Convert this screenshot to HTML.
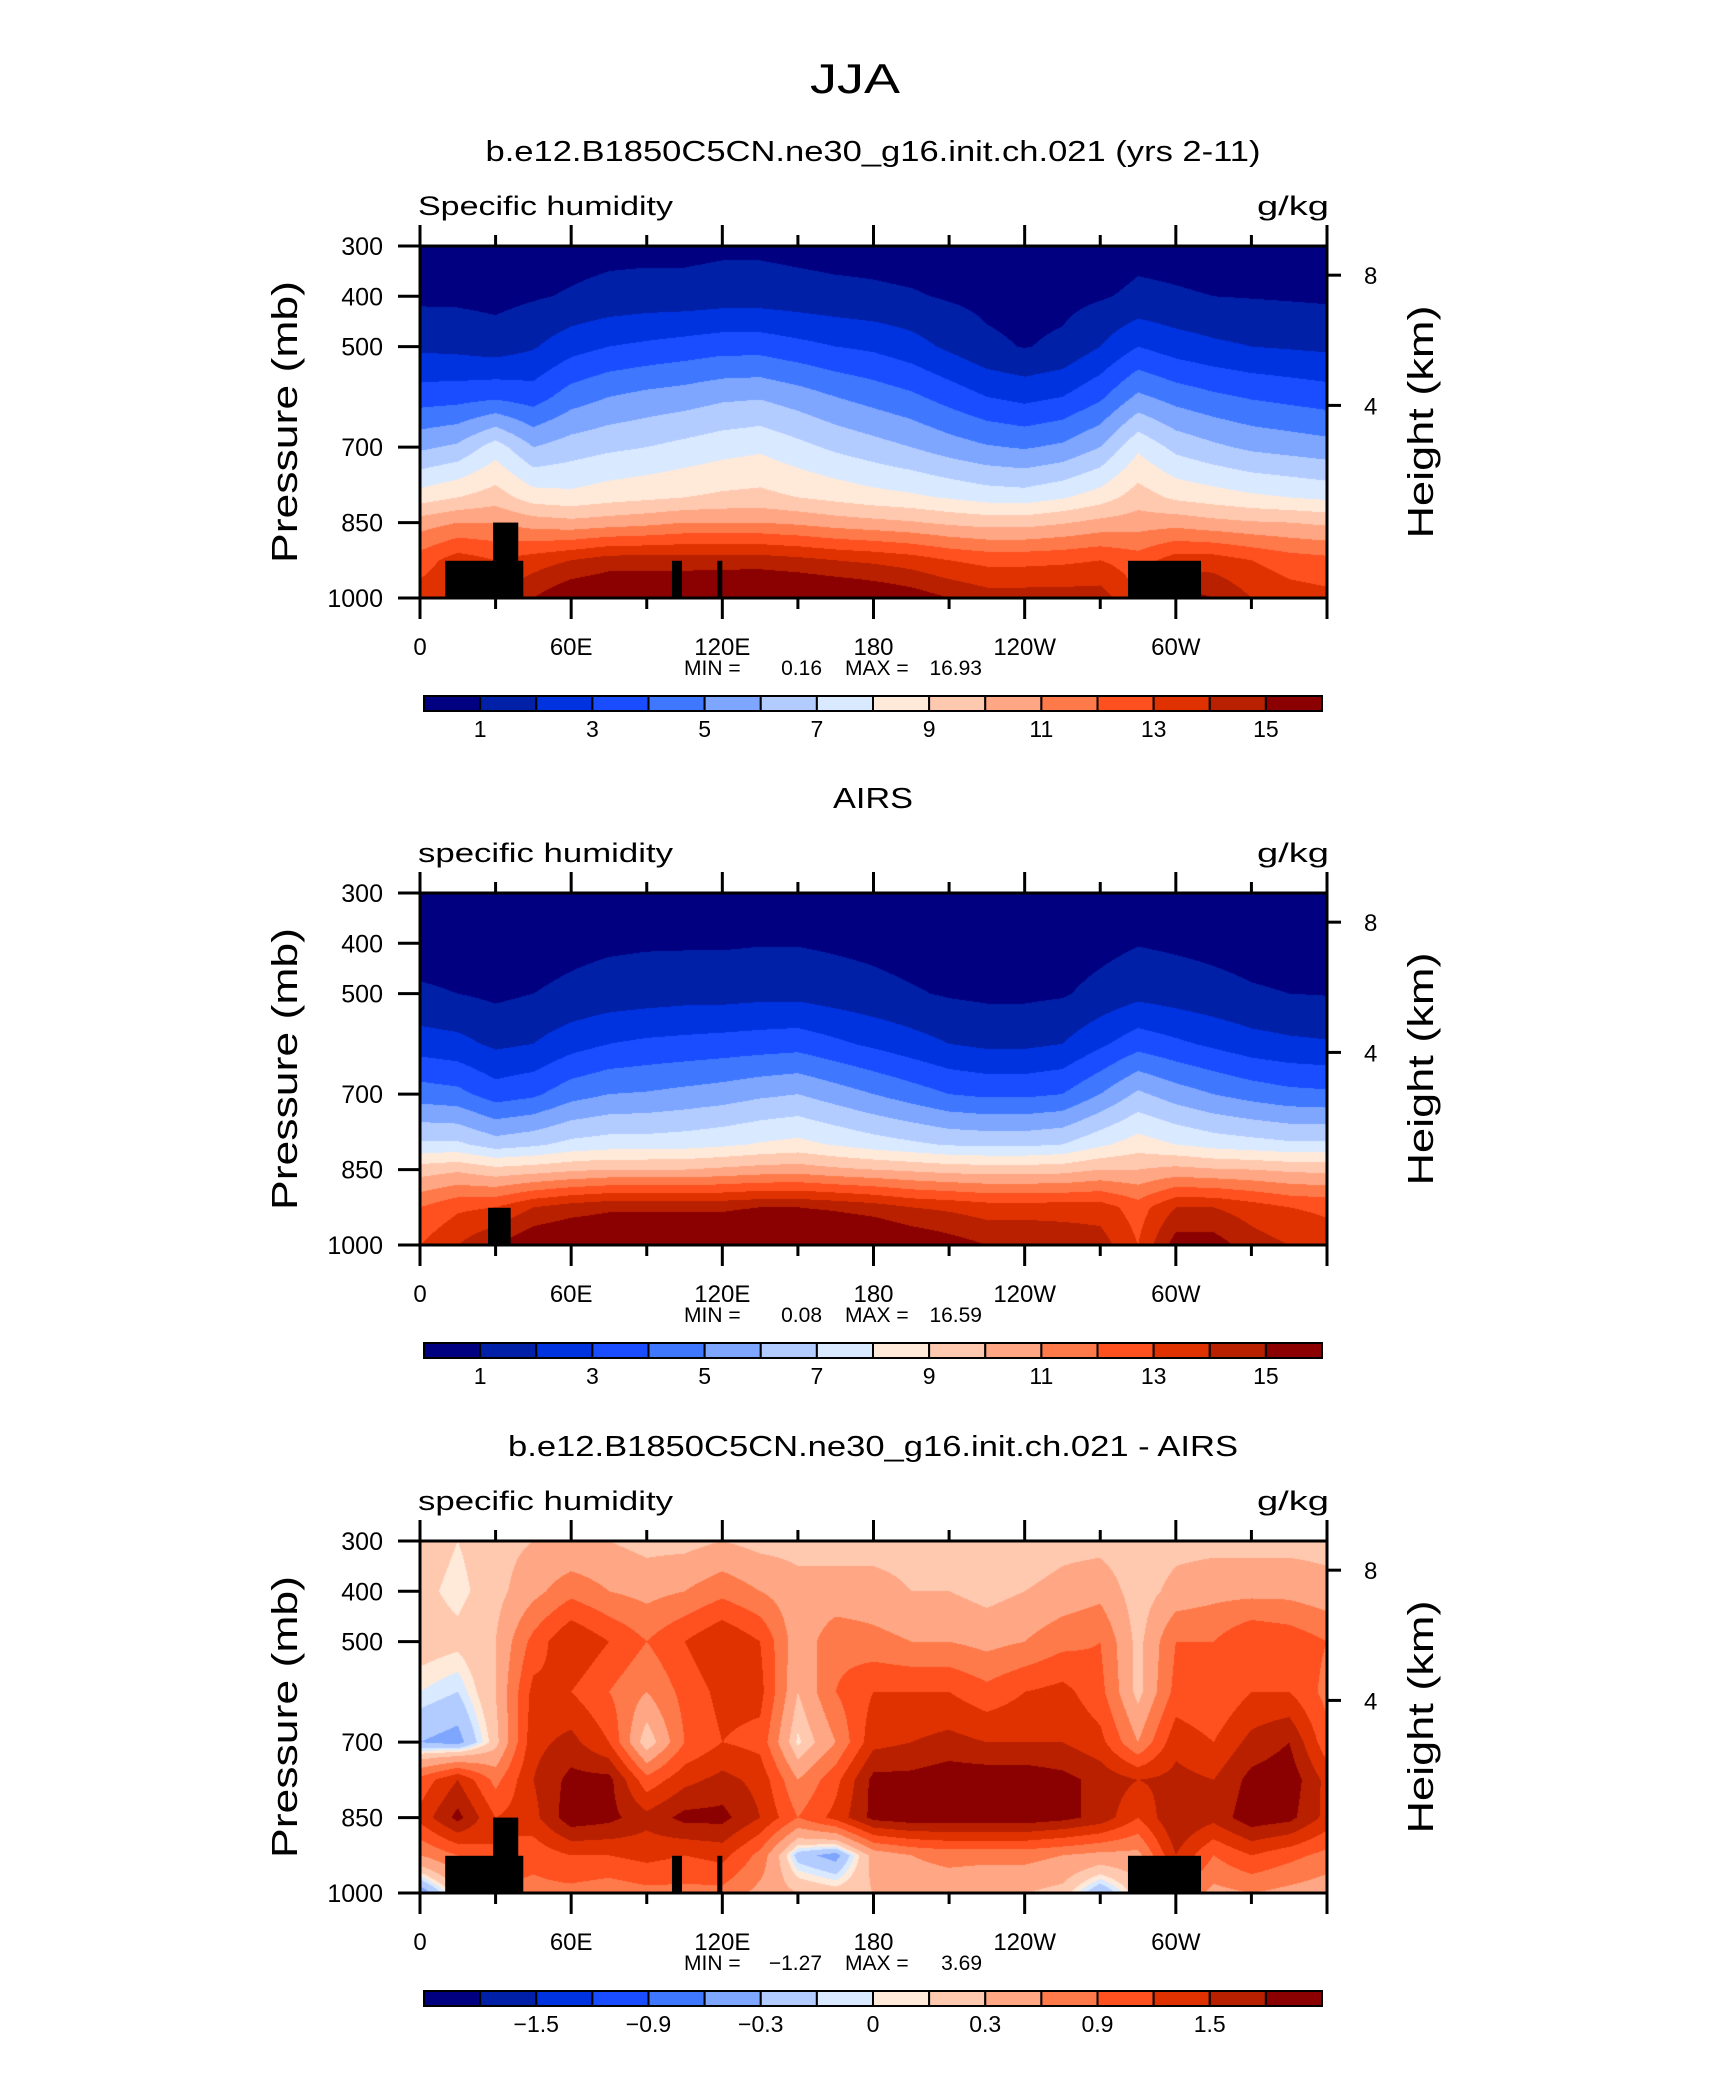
<!DOCTYPE html>
<html><head><meta charset="utf-8">
<style>
html,body{margin:0;padding:0;background:#fff;}
#root{position:relative;width:1710px;height:2074px;overflow:hidden;background:#fff;font-family:"Liberation Sans",sans-serif;}
canvas{position:absolute;}
svg{position:absolute;left:0;top:0;}
</style></head>
<body>
<div id="root">
<canvas id="c1" width="907" height="352" style="left:420px;top:246px"></canvas>
<canvas id="c2" width="907" height="352" style="left:420px;top:893px"></canvas>
<canvas id="c3" width="907" height="352" style="left:420px;top:1541px"></canvas>
<svg id="ov" width="1710" height="2074" xmlns="http://www.w3.org/2000/svg">
<text x="855" y="93" font-size="42" text-anchor="middle" textLength="90" lengthAdjust="spacingAndGlyphs" font-family="Liberation Sans, sans-serif">JJA</text>
</svg>
</div>
<script>
// ---------------- data ----------------
const lons = [0,15,30,45,60,75,90,105,120,135,150,165,180,195,210,225,240,255,270,285,300,315,330,345,360];
const levels = [300,400,500,600,700,800,850,925,1000];
const diffLevels = [300,400,500,600,700,775,850,925,1000];

const modelQ = [
[0.4,0.8,1.8,3.5,5.8,8.5,10.5,12.5,13.5],
[0.4,0.8,1.7,3.6,6.2,9,11,13.5,14],
[0.3,0.7,1.5,3.8,7.5,9.5,11,13,14],
[0.4,0.9,1.9,3.5,6,8.5,10.5,13.5,15],
[0.6,1.1,2.6,4.5,6.5,8.3,10.3,14,16],
[0.7,1.3,3,5,6.8,8.6,10.5,14.5,16.2],
[0.7,1.4,3.2,5.3,7,8.8,10.7,14.5,16.3],
[0.7,1.4,3.4,5.5,7.3,9,11,14.5,16.3],
[0.8,1.5,3.6,5.8,7.6,9.2,11,14.5,16.5],
[0.8,1.5,3.6,5.9,7.8,9.3,11,14.5,16.6],
[0.7,1.4,3.3,5.5,7.3,9,10.8,14.3,16.5],
[0.6,1.3,3,5,6.8,8.7,10.5,14,16.3],
[0.6,1.2,2.8,4.6,6.4,8.4,10.3,13.8,16],
[0.5,1.1,2.4,4.2,6,8.2,10.1,13.5,15.6],
[0.4,0.9,1.8,3.6,5.5,7.9,9.8,13,15],
[0.35,0.75,1.2,3,5.1,7.6,9.6,12.7,14.5],
[0.3,0.65,0.95,2.7,4.9,7.5,9.6,12.7,14.5],
[0.3,0.7,1.2,3,5.2,7.9,9.9,12.8,14.5],
[0.4,0.9,2,3.8,6,8.5,10.3,13,14.5],
[0.7,1.2,3,5.2,7.8,9.5,10.5,12.5,13],
[0.65,1.1,2.5,4.6,6.7,8.8,10.6,13.5,15.5],
[0.55,1.0,2.2,4.2,6.2,8.5,10.3,13.5,15],
[0.5,0.95,2,3.9,5.8,8.2,10.1,13,14],
[0.45,0.9,1.9,3.7,5.6,8,10,12.5,13.5],
[0.45,0.85,1.8,3.5,5.4,7.8,9.8,12.3,13.3]
];
const airsQ = [
[0.3,0.7,1.1,2.5,4.5,7.2,9.5,12,13],
[0.3,0.65,1.0,2.3,4.3,7.2,9.8,12.8,14],
[0.25,0.5,0.8,1.8,3.5,6.5,9.3,13,15],
[0.3,0.6,1.0,2.0,3.8,6.8,9.5,14,16],
[0.35,0.75,1.2,2.6,4.6,7.3,9.8,14.5,16.3],
[0.4,0.85,1.4,3,5,7.5,10,14.8,16.3],
[0.4,0.9,1.5,3.2,5.1,7.5,10,14.8,16.4],
[0.4,0.9,1.6,3.3,5.3,7.6,10,14.8,16.3],
[0.4,0.9,1.6,3.4,5.5,7.8,10.2,14.8,16.4],
[0.4,0.95,1.7,3.5,5.8,8.1,10.4,15,16.8],
[0.4,0.95,1.7,3.6,6,8.3,10.5,15,16.9],
[0.35,0.85,1.5,3.2,5.5,7.9,10.2,14.8,16.7],
[0.3,0.75,1.3,2.8,5,7.5,10,14.5,16.5],
[0.25,0.6,1.1,2.4,4.5,7.2,9.8,14,16],
[0.2,0.5,0.9,2,4,6.9,9.6,13.8,15.5],
[0.2,0.45,0.8,1.8,3.8,6.8,9.5,13.5,15],
[0.2,0.45,0.8,1.8,3.8,6.8,9.5,13.5,15],
[0.25,0.5,0.9,2,4,7,9.6,13.5,14.8],
[0.3,0.7,1.3,2.8,5,7.8,10,13.5,14.5],
[0.4,0.95,1.7,3.6,6.2,8.5,10,12.5,13],
[0.35,0.85,1.5,3.2,5.5,8,10.3,14,15.5],
[0.3,0.75,1.3,2.8,5,7.6,10.1,14,15.5],
[0.3,0.65,1.1,2.4,4.6,7.4,10,13.5,14.5],
[0.25,0.6,1.0,2.2,4.3,7.2,9.8,13,14],
[0.25,0.55,0.95,2.1,4.2,7.2,9.7,12.8,13.5]
];
const diffQ = [
[0.2,0.15,0.2,0.0,-0.3,1.0,1.3,0.6,-0.5],
[0.1,0.05,0.15,-0.1,-0.4,1.5,1.9,0.9,0.2],
[0.2,0.2,0.3,0.3,0.2,0.8,1.2,1.2,0.8],
[0.3,0.5,1.0,1.3,1.4,1.5,1.4,1.0,0.8],
[0.3,0.8,1.5,1.2,1.6,1.9,2.0,1.2,0.8],
[0.3,0.6,1.2,0.9,1.2,1.9,1.9,1.2,0.7],
[0.2,0.5,0.9,0.6,0.1,1.0,1.6,1.3,0.8],
[0.2,0.6,1.2,1.0,0.9,1.4,1.9,1.2,0.8],
[0.3,0.8,1.5,1.3,1.2,1.6,1.9,1.3,0.8],
[0.2,0.6,1.2,1.3,1.1,1.4,1.5,0.8,0.5],
[0.2,0.4,0.4,0.3,0.05,0.6,0.9,-0.2,0.3],
[0.2,0.4,0.8,0.9,0.6,1.1,1.3,-0.4,0.2],
[0.2,0.4,0.7,1.2,1.4,1.9,1.9,0.4,0.3],
[0.2,0.3,0.6,1.2,1.5,1.9,2.0,0.6,0.4],
[0.1,0.3,0.6,1.2,1.6,2.0,2.0,0.7,0.4],
[0.1,0.2,0.5,1.0,1.5,2.0,2.0,0.7,0.3],
[0.1,0.3,0.6,1.2,1.5,2.0,2.0,0.7,0.3],
[0.2,0.4,0.8,1.3,1.5,1.9,1.9,0.6,0.2],
[0.2,0.5,0.9,1.0,1.3,1.7,1.7,0.5,-0.3],
[0.1,0.15,0.2,0.2,0.6,1.5,1.2,0.5,0.2],
[0.2,0.4,0.9,1.0,1.4,1.6,1.8,1.5,0.9],
[0.2,0.5,0.9,0.9,1.2,1.5,1.6,0.9,0.5],
[0.2,0.5,1.2,1.2,1.6,1.9,2.0,1.2,0.6],
[0.2,0.5,1.1,1.2,1.8,2.0,1.9,1.0,0.5],
[0.2,0.4,0.9,0.8,1.0,1.4,1.4,0.8,0.4]
];
const mainBounds = [1,2,3,4,5,6,7,8,9,10,11,12,13,14,15];
const diffBounds = [-1.8,-1.5,-1.2,-0.9,-0.6,-0.3,-0.1,0,0.1,0.3,0.6,0.9,1.2,1.5,1.8];
const mainLabels = ["1","3","5","7","9","11","13","15"];
const diffLabels = ["\u22121.5","\u22120.9","\u22120.3","0","0.3","0.9","1.5"];
const palette = ["#000080","#0020a8","#0033e0","#1a4dff","#3f77ff","#7ea6ff","#b3ccff","#d9e9ff","#ffe9d9","#ffc9b0","#ffa785","#ff7a4a","#ff5020","#e03200","#b82000","#8b0000"];
const modelMask = [[10,41,926],[29,39,850],[100,104,926],[118,120,926],[281,310,926]];
const airsMask = [[27,36,926]];
const pTicks = [300,400,500,700,850,1000];
const kmTicks = [8,4];
const kmTickP = [358,617];
const lonTicks = [0,60,120,180,240,300,360];
const lonLabels = ["0","60E","120E","180","120W","60W",""];
const minmax = [["0.16","16.93"],["0.08","16.59"],["\u22121.27","3.69"]];

// ---------------- geometry ----------------
const PL=420, PW=907, PH=352;
const tops=[246,893,1541];
function xOf(lon){return PL+lon/360*PW;}
function yOf(top,p){return top+(p-300)/700*PH;}
const NS="http://www.w3.org/2000/svg";
const svg=document.getElementById('ov');
function mk(tag,attrs,parent){const e=document.createElementNS(NS,tag);for(const k in attrs)e.setAttribute(k,attrs[k]);(parent||svg).appendChild(e);return e;}

function interp(grid,levs,lon,p){
  let i=Math.min(Math.floor(lon/15),lons.length-2);let fx=(lon-lons[i])/15;
  let j=0;while(j<levs.length-2&&p>levs[j+1])j++;
  let fy=(p-levs[j])/(levs[j+1]-levs[j]);fy=Math.max(0,Math.min(1,fy));
  const a=grid[i][j],b=grid[i+1][j],c=grid[i][j+1],d=grid[i+1][j+1];
  return (a*(1-fx)+b*fx)*(1-fy)+(c*(1-fx)+d*fx)*fy;
}
function hex(h){return [parseInt(h.substr(1,2),16),parseInt(h.substr(3,2),16),parseInt(h.substr(5,2),16)];}
const palRGB=palette.map(hex);
function drawField(id,grid,levs,bounds){
  const cv=document.getElementById(id),ctx=cv.getContext('2d');
  const img=ctx.createImageData(PW,PH);
  for(let py=0;py<PH;py++){const p=300+(py+0.5)/PH*700;
    for(let px=0;px<PW;px++){const lon=(px+0.5)/PW*360;
      const v=interp(grid,levs,lon,p);let k=0;while(k<bounds.length&&v>=bounds[k])k++;
      const c=palRGB[k],o=(py*PW+px)*4;img.data[o]=c[0];img.data[o+1]=c[1];img.data[o+2]=c[2];img.data[o+3]=255;}}
  ctx.putImageData(img,0,0);
}
drawField('c1',modelQ,levels,mainBounds);
drawField('c2',airsQ,levels,mainBounds);
drawField('c3',diffQ,diffLevels,diffBounds);

const titles=["b.e12.B1850C5CN.ne30_g16.init.ch.021 (yrs 2-11)","AIRS","b.e12.B1850C5CN.ne30_g16.init.ch.021 - AIRS"];
const titleLen=[775,80,730];
const leftLabels=["Specific humidity","specific humidity","specific humidity"];

for(let n=0;n<3;n++){
  const T=tops[n],B=T+PH;
  const g=mk('g',{});
  
  
  const t=mk('text',{x:873,y:T-85,'font-size':29,'text-anchor':'middle',textLength:titleLen[n],lengthAdjust:'spacingAndGlyphs'},g);
  t.textContent=titles[n];
  
  
  const l=mk('text',{x:418,y:T-31,'font-size':27,textLength:255,lengthAdjust:'spacingAndGlyphs'},g);
  l.textContent=leftLabels[n];
  
  
  const u=mk('text',{x:1329,y:T-31,'font-size':27,'text-anchor':'end',textLength:72,lengthAdjust:'spacingAndGlyphs'},g);
  u.textContent="g/kg";
  
  
  const masks = n===1?airsMask:modelMask;
  masks.forEach(m=>{
    const r=mk('rect',{x:xOf(m[0]),y:yOf(T,m[2]),width:xOf(m[1])-xOf(m[0]),height:B-yOf(T,m[2]),fill:'#000'},g);
    
    
  });
  const fr=mk('rect',{x:PL,y:T,width:PW,height:PH,fill:'none',stroke:'#000','stroke-width':3},g);
  
  
  for(let lon=0;lon<=360;lon+=30){
    const major=lon%60===0,len=major?21:11,x=xOf(lon);
    mk('line',{x1:x,y1:T,x2:x,y2:T-len,stroke:'#000','stroke-width':3},g);
    const bt=mk('line',{x1:x,y1:B,x2:x,y2:B+len,stroke:'#000','stroke-width':3},g);
    
    
  }
  lonTicks.forEach((lon,i)=>{
    const tx=mk('text',{x:xOf(lon),y:B+57,'font-size':24,'text-anchor':'middle'},g);
    tx.textContent=lonLabels[i];
    
    
  });
  pTicks.forEach(p=>{
    const y=yOf(T,p);
    mk('line',{x1:PL-22,y1:y,x2:PL,y2:y,stroke:'#000','stroke-width':3},g);
    const tx=mk('text',{x:383,y:y+9,'font-size':25,'text-anchor':'end'},g);
    tx.textContent=String(p);
    
    
  });
  kmTicks.forEach((k,i)=>{
    const y=yOf(T,kmTickP[i]);
    mk('line',{x1:PL+PW,y1:y,x2:PL+PW+14,y2:y,stroke:'#000','stroke-width':3},g);
    const tx=mk('text',{x:1364,y:y+9,'font-size':24},g);
    tx.textContent=String(k);
    
    
  });
  const cy=T+PH/2;
  const ya=mk('text',{x:0,y:0,'font-size':36,'text-anchor':'middle',textLength:282,lengthAdjust:'spacingAndGlyphs',transform:`translate(297,${cy}) rotate(-90)`},g);
  ya.textContent="Pressure (mb)";
  
  
  const ra=mk('text',{x:0,y:0,'font-size':36,'text-anchor':'middle',textLength:233,lengthAdjust:'spacingAndGlyphs',transform:`translate(1433,${cy}) rotate(-90)`},g);
  ra.textContent="Height (km)";
  
  
  // min max
  const yMM=B+77;
  const m1=mk('text',{x:684,y:yMM,'font-size':21},g);
  m1.textContent="MIN =";
  
  
  const m2=mk('text',{x:822,y:yMM,'font-size':21,'text-anchor':'end'},g);
  m2.textContent=minmax[n][0];
  
  
  const m3=mk('text',{x:845,y:yMM,'font-size':21},g);
  m3.textContent="MAX =";
  
  
  const m4=mk('text',{x:982,y:yMM,'font-size':21,'text-anchor':'end'},g);
  m4.textContent=minmax[n][1];
  
  
  // colorbar
  const CT=T+450,CL=424,CW=898/16;
  for(let k=0;k<16;k++){
    const r=mk('rect',{x:CL+k*CW,y:CT,width:CW,height:15,fill:palette[k],stroke:'#000','stroke-width':2},g);
    
    
  }
  const labs=n===2?diffLabels:mainLabels;
  labs.forEach((s,i)=>{
    const bi=n===2?2*(i+1):2*i+1;
    const tx=mk('text',{x:CL+bi*CW,y:CT+41,'font-size':23,'text-anchor':'middle'},g);
    tx.textContent=s;
    
    
  });
}
</script>
</body></html>
